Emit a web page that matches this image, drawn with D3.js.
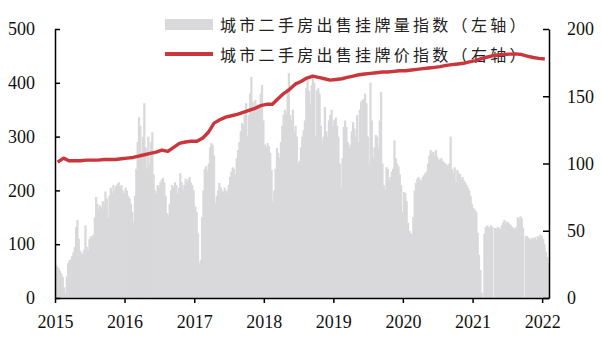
<!DOCTYPE html>
<html>
<head>
<meta charset="utf-8">
<script src="https://cdn.jsdelivr.net/npm/d3@7"></script>
<style>
  body { margin: 0; background: #fff; }
  svg { display: block; }
  .tick text { font-family: "Liberation Serif", "Times New Roman", serif; font-size: 18px; fill: #111; }
  .legend text { font-family: "Noto Sans CJK SC", sans-serif; font-size: 16px; fill: #222; letter-spacing: 3.3px; }
</style>
</head>
<body>
<div id="chart"></div>
<script>
// weekly listing-volume index (left axis), one array per year
const vol2015 = [61,58,55,50,45,39,20,9,40,65,70,72,78,85,95,132,145,110,88,84,82,90,135,95,88,110,115,112,118,150,188,175,165,172,168,180,175,198,185,150,190,205,195,210,200,208,212,215,205,210,200,195];
const vol2016 = [205,200,190,185,175,160,140,190,240,290,336,320,270,300,362,280,240,300,250,290,308,230,200,195,210,205,215,220,223,215,190,158,154,175,200,210,205,215,210,195,205,232,215,200,210,222,215,220,225,215,210,200];
const vol2017 = [170,160,120,65,70,150,200,240,245,238,250,280,288,285,265,176,190,200,214,205,200,198,205,195,200,210,225,235,243,240,230,260,275,290,310,325,320,340,362,300,340,380,411,365,355,368,350,360,355,380,396,330];
const vol2018 = [285,280,288,282,270,238,180,200,240,279,270,260,290,320,340,350,345,390,418,340,330,350,310,320,300,250,255,280,300,312,330,390,405,385,360,395,411,400,300,386,390,380,320,293,300,355,310,300,330,340,350,320];
const vol2019 = [331,335,320,300,250,204,260,318,330,318,290,279,285,310,327,315,300,340,290,350,365,368,370,380,362,300,250,400,330,260,280,303,300,280,330,383,250,210,200,243,240,220,225,235,240,293,260,250,245,230,210,160];
const vol2020 = [197,195,180,140,125,121,117,150,200,214,222,225,220,218,225,228,232,235,250,265,275,268,272,265,275,262,258,256,260,255,252,250,248,245,250,300,240,232,243,215,238,232,230,222,225,218,214,210,205,200,190,175];
const vol2021 = [167,164,160,121,80,52,10,0,120,132,135,133,130,135,132,0,130,128,132,130,128,135,140,145,138,142,140,137,135,132,130,128,132,150,145,152,148,130,0,115,115,112,110,108,112,110,113,108,115,112,118,115];
const vol2022 = [110,100,85,76,65];
const volYears = [2015, 2016, 2017, 2018, 2019, 2020, 2021, 2022];
const volByYear = [vol2015, vol2016, vol2017, vol2018, vol2019, vol2020, vol2021, vol2022];

// monthly listing-price index (right axis)
const price2015 = [101,104,102,102,102,102.5,102.5,102.5,103,103,103,103.5];
const price2016 = [104,104.5,105.5,106.5,107.5,108.5,110,109,112,115,116,116.5];
const price2017 = [116.5,119,123,130,132.5,134.5,135.5,136.5,138,139.5,141,143];
const price2018 = [144,144,148,152,155,159,161,163.5,165,164,163,162];
const price2019 = [162.5,163,164,165,166,166.5,167,167.5,168,168,168.5,169];
const price2020 = [169,169.5,170,170.5,171,171.5,172,173,173.5,174,174.5,175.5];
const price2021 = [176.5,178,179,180,180.7,181,181.3,181.5,181,179.8,178.8,178.2];
const price2022 = [177.7];
const priceByYear = [price2015, price2016, price2017, price2018, price2019, price2020, price2021, price2022];

const leftTicks = [0, 100, 200, 300, 400, 500];
const rightTicks = [0, 50, 100, 150, 200];
const yearTicks = [2015, 2016, 2017, 2018, 2019, 2020, 2021, 2022];
const legendLabels = ["城市二手房出售挂牌量指数（左轴）", "城市二手房出售挂牌价指数（右轴）"];

const W = 602, H = 338;
const plotL = 55, plotR = 549, plotT = 29, plotB = 298;

const volData = [];
volYears.forEach((yr, k) => {
  volByYear[k].forEach((v, i) => volData.push({ date: new Date(yr, 0, 1 + 7 * i), v }));
});
const priceData = [];
volYears.forEach((yr, k) => {
  priceByYear[k].forEach((v, m) => priceData.push({ date: new Date(yr, m, 15), v }));
});

const x = d3.scaleTime().domain([new Date(2015, 0, 1), new Date(2022, 1, 6)]).range([plotL, plotR]);
const yL = d3.scaleLinear().domain([0, 500]).range([plotB, plotT]);
const yR = d3.scaleLinear().domain([0, 200]).range([plotB, plotT]);

const svg = d3.select("#chart").append("svg").attr("width", W).attr("height", H);

// bars (slight overlap so neighbouring weeks read as one solid area)
svg.append("g").selectAll("rect").data(volData).enter().append("rect")
  .attr("x", d => x(d.date))
  .attr("y", d => yL(d.v))
  .attr("width", d => x(d3.timeDay.offset(d.date, 7)) - x(d.date) + 0.9)
  .attr("height", d => plotB - yL(d.v))
  .attr("fill", "#d9d9db");

// legend
const lg = svg.append("g").attr("class", "legend");
lg.append("rect").attr("x", 165).attr("y", 19).attr("width", 48).attr("height", 11).attr("fill", "#d9d9db");
lg.append("line").attr("x1", 165).attr("x2", 213).attr("y1", 54).attr("y2", 54)
  .attr("stroke", "#c9363b").attr("stroke-width", 4);
lg.selectAll("text").data(legendLabels).enter().append("text")
  .attr("x", 220).attr("y", (d, i) => 25 + i * 30).attr("dy", "0.35em")
  .text(d => d);

// price line
svg.append("path").datum(priceData)
  .attr("fill", "none").attr("stroke", "#c9363b").attr("stroke-width", 3.4)
  .attr("stroke-linejoin", "round")
  .attr("d", d3.line().x(d => x(d.date)).y(d => yR(d.v)));

// axes
const axL = svg.append("g").attr("transform", `translate(${plotL},0)`)
  .call(d3.axisLeft(yL).tickValues(leftTicks).tickSizeInner(-5).tickSizeOuter(0).tickPadding(20));
const axR = svg.append("g").attr("transform", `translate(${plotR},0)`)
  .call(d3.axisRight(yR).tickValues(rightTicks).tickSizeInner(-6).tickSizeOuter(0).tickPadding(18));
const axB = svg.append("g").attr("transform", `translate(0,${plotB})`)
  .call(d3.axisBottom(x).tickValues(yearTicks.map(y => new Date(y, 0, 1)))
    .tickFormat(d3.timeFormat("%Y")).tickSize(5).tickSizeOuter(0).tickPadding(12));

[axL, axR, axB].forEach(a => {
  a.select(".domain").attr("stroke", "#000").attr("stroke-width", 1.5);
  a.selectAll(".tick line").attr("stroke", "#000").attr("stroke-width", 1.5);
});
</script>
</body>
</html>
